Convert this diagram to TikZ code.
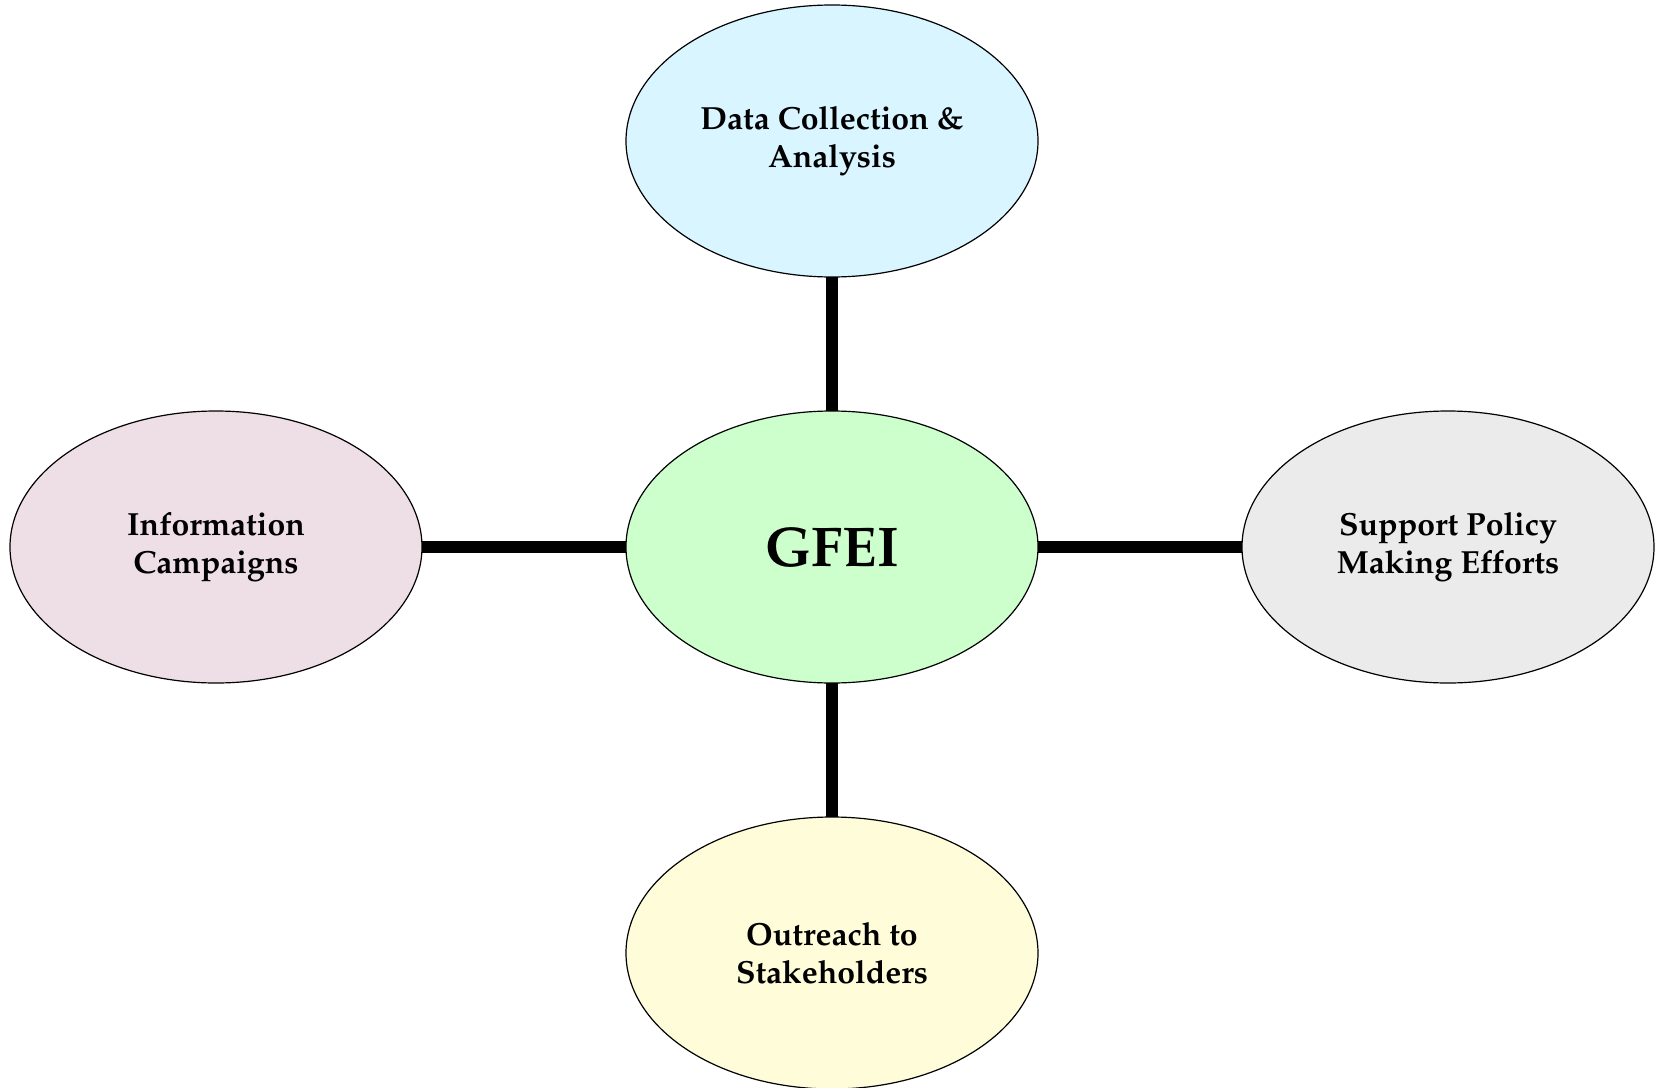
\documentclass[tikz,border=0pt]{standalone}
\usepackage[T1]{fontenc}
\usepackage{mathpazo}
\usetikzlibrary{shapes.geometric, positioning}

\definecolor{infopink}{HTML}{EEDFE6}
\definecolor{datacyan}{HTML}{D9F5FF}

\begin{document}
\begin{tikzpicture}[node distance = 67pt and 102pt,
    BUBL/.style = {ellipse,
                    draw, line width=0.6pt,
                    fill=#1,
                    minimum width=206pt, minimum height=136pt,
                    align=center,
                    inner sep=0pt, outer sep=0pt,
                    font=\bfseries\fontsize{16}{19}\selectfont},
    link/.style = {line width=6pt}
                            ]

    \useasboundingbox (-416pt,-270pt) rectangle (412.5pt,273.5pt);

    % hub in the middle, four topics round it
    \node (gfei)  [BUBL=green!20,
                   font=\bfseries\fontsize{28}{30}\selectfont]  {GFEI};
    \node (data)  [BUBL=datacyan, above=of gfei]  {Data Collection \&\\ Analysis};
    \node (info)  [BUBL=infopink, left=of gfei]  {Information\\ Campaigns};
    \node (policy)[BUBL=gray!16, right=of gfei]  {Support Policy\\ Making Efforts};
    \node (reach) [BUBL=yellow!15, below=of gfei]  {Outreach to\\ Stakeholders};

    \draw[link] (gfei) -- (data);
    \draw[link] (gfei) -- (info);
    \draw[link] (gfei) -- (policy);
    \draw[link] (gfei) -- (reach);
\end{tikzpicture}
\end{document}
